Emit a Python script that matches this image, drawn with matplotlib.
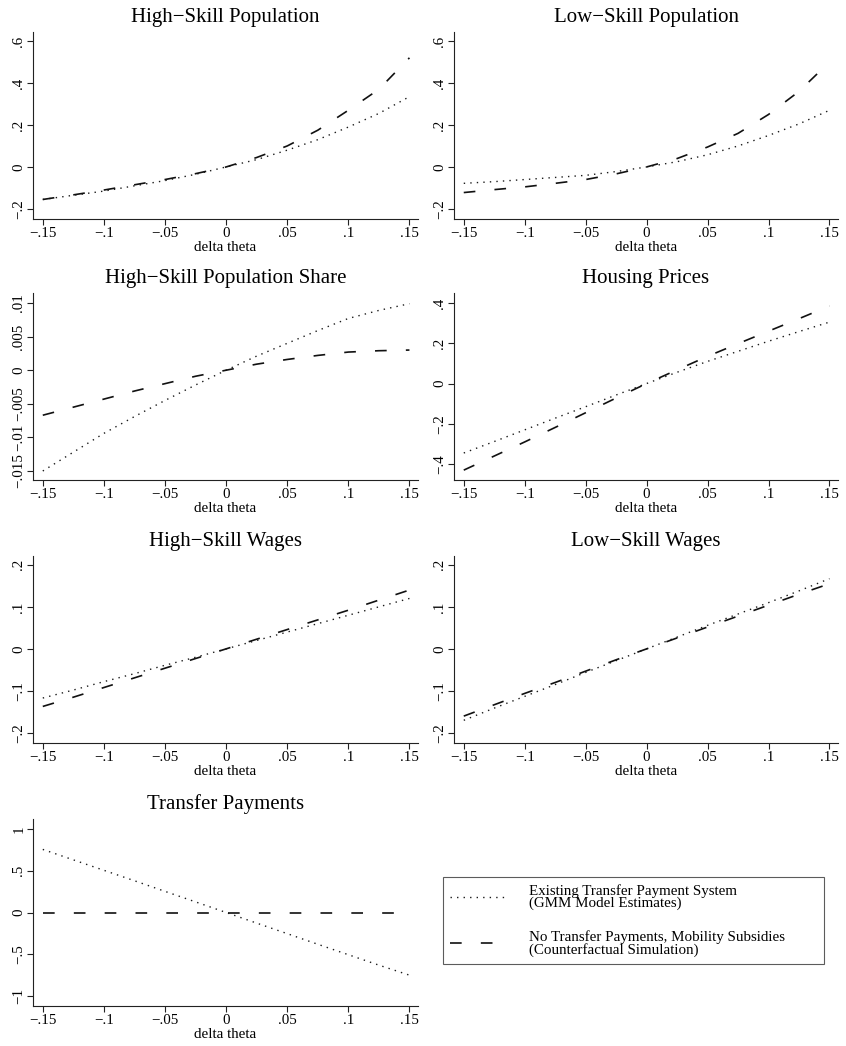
"""Simulated effects of a change in theta: transfer system vs. counterfactual."""

import matplotlib
matplotlib.use("Agg")
import matplotlib.pyplot as plt
from matplotlib.ticker import FixedLocator, FuncFormatter

plt.rcParams["font.family"] = ["Liberation Serif", "DejaVu Serif"]

# --- DATA ---
delta_theta: list[float] = [-0.15, -0.125, -0.1, -0.075, -0.05, -0.025, 0.0,
                            0.025, 0.05, 0.075, 0.1, 0.125, 0.15]

hs_pop_gmm: list[float] = [-0.155, -0.135, -0.115, -0.09, -0.065, -0.035, 0.0,
                           0.035, 0.08, 0.13, 0.19, 0.255, 0.335]
hs_pop_cf: list[float] = [-0.155, -0.133, -0.11, -0.085, -0.06, -0.032, 0.0,
                          0.045, 0.10, 0.175, 0.27, 0.37, 0.52]

ls_pop_gmm: list[float] = [-0.078, -0.07, -0.06, -0.05, -0.04, -0.022, 0.0,
                           0.025, 0.058, 0.1, 0.15, 0.205, 0.27]
ls_pop_cf: list[float] = [-0.122, -0.108, -0.095, -0.078, -0.06, -0.033, 0.0,
                          0.04, 0.095, 0.16, 0.25, 0.36, 0.50]

hs_share_gmm: list[float] = [-0.015, -0.0122, -0.0094, -0.0069, -0.0045, -0.0022, 0.0,
                             0.0021, 0.0040, 0.0059, 0.0077, 0.0089, 0.0099]
hs_share_cf: list[float] = [-0.0067, -0.0055, -0.0043, -0.0031, -0.0020, -0.0009, 0.0,
                            0.0009, 0.0016, 0.0022, 0.0027, 0.0029, 0.0030]

housing_gmm: list[float] = [-0.345, -0.288, -0.23, -0.172, -0.115, -0.057, 0.0,
                            0.056, 0.11, 0.16, 0.21, 0.258, 0.305]
housing_cf: list[float] = [-0.43, -0.36, -0.29, -0.218, -0.145, -0.072, 0.0,
                           0.068, 0.135, 0.198, 0.26, 0.322, 0.385]

hs_wage_gmm: list[float] = [-0.117, -0.098, -0.078, -0.059, -0.039, -0.02, 0.0,
                            0.02, 0.04, 0.06, 0.08, 0.1, 0.12]
hs_wage_cf: list[float] = [-0.137, -0.115, -0.092, -0.069, -0.046, -0.023, 0.0,
                           0.023, 0.046, 0.069, 0.092, 0.116, 0.14]

ls_wage_gmm: list[float] = [-0.17, -0.141, -0.113, -0.085, -0.056, -0.028, 0.0,
                            0.028, 0.056, 0.083, 0.11, 0.138, 0.167]
ls_wage_cf: list[float] = [-0.16, -0.133, -0.106, -0.08, -0.053, -0.026, 0.0,
                           0.026, 0.052, 0.078, 0.104, 0.13, 0.155]

transfer_gmm: list[float] = [0.755, 0.63, 0.505, 0.38, 0.253, 0.127, 0.0,
                             -0.127, -0.253, -0.38, -0.505, -0.63, -0.75]
transfer_cf: list[float] = [0.0] * 13

x_ticks: list[float] = [-0.15, -0.1, -0.05, 0.0, 0.05, 0.1, 0.15]

panels = [
    ("High\u2212Skill Population", hs_pop_gmm, hs_pop_cf, [-0.2, 0, 0.2, 0.4, 0.6], (-0.248, 0.643)),
    ("Low\u2212Skill Population", ls_pop_gmm, ls_pop_cf, [-0.2, 0, 0.2, 0.4, 0.6], (-0.248, 0.643)),
    ("High\u2212Skill Population Share", hs_share_gmm, hs_share_cf,
     [-0.015, -0.01, -0.005, 0, 0.005, 0.01], (-0.01634, 0.01149)),
    ("Housing Prices", housing_gmm, housing_cf, [-0.4, -0.2, 0, 0.2, 0.4], (-0.479, 0.4495)),
    ("High\u2212Skill Wages", hs_wage_gmm, hs_wage_cf, [-0.2, -0.1, 0, 0.1, 0.2], (-0.224, 0.221)),
    ("Low\u2212Skill Wages", ls_wage_gmm, ls_wage_cf, [-0.2, -0.1, 0, 0.1, 0.2], (-0.224, 0.221)),
    ("Transfer Payments", transfer_gmm, transfer_cf, [-1, -0.5, 0, 0.5, 1], (-1.119, 1.119)),
]

label_gmm = "Existing Transfer Payment System\n(GMM Model Estimates)"
label_cf = "No Transfer Payments, Mobility Subsidies\n(Counterfactual Simulation)"


def stata_fmt(v: float, _pos=None) -> str:
    s = "%g" % round(v, 6)
    if s.startswith("0.") or s.startswith("-0."):
        s = s.replace("0.", ".", 1)
    return s.replace("-", "\u2212")


# --- LAYOUT (pixel boxes from the reference) ---
W, H = 846, 1046
col_x = [33, 454]
col_w = [385, 384]
row_bottom = [219, 480, 743, 1006]
ax_h = 187

fig = plt.figure(figsize=(W / 100, H / 100), dpi=100)

for i, (title, gmm, cf, yticks, ylim) in enumerate(panels):
    r, c = divmod(i, 2)
    ax = fig.add_axes([col_x[c] / W, 1 - row_bottom[r] / H, col_w[c] / W, ax_h / H])
    line_gmm, = ax.plot(delta_theta, gmm, color="#1a1a1a", lw=1.0,
                        linestyle=(0, (1, 3.7)), label=label_gmm)
    line_cf, = ax.plot(delta_theta, cf, color="#111111", lw=1.2,
                       linestyle=(0, (7, 11.5)), label=label_cf)
    ax.set_xlim(-0.158, 0.157)
    ax.set_ylim(*ylim)
    ax.xaxis.set_major_locator(FixedLocator(x_ticks))
    ax.yaxis.set_major_locator(FixedLocator(yticks))
    ax.xaxis.set_major_formatter(FuncFormatter(stata_fmt))
    ax.yaxis.set_major_formatter(FuncFormatter(stata_fmt))
    ax.tick_params(labelsize=10.8, length=4, width=0.8, pad=1.5, color="#222222")
    for lab in ax.get_yticklabels():
        lab.set_rotation(90)
        lab.set_va("center")
    ax.spines["top"].set_visible(False)
    ax.spines["right"].set_visible(False)
    for side in ("left", "bottom"):
        ax.spines[side].set_linewidth(0.8)
        ax.spines[side].set_color("#222222")
    ax.set_xlabel("delta theta", fontsize=10.8, labelpad=1)
    ax.set_title(title, fontsize=15, pad=7)

# --- LEGEND ---
leg = fig.legend(handles=[line_gmm, line_cf], loc="upper left",
                 bbox_to_anchor=(443 / W, 1 - 960 / H, 381 / W, 83 / H), mode="expand",
                 borderaxespad=0, fontsize=10.8, frameon=True, fancybox=False,
                 edgecolor="#333333", handlelength=3.8, handletextpad=1.5,
                 borderpad=0.45, labelspacing=1.3)
leg.get_frame().set_linewidth(0.8)
for t in leg.get_texts():
    t.set_linespacing(0.95)

fig.savefig("out.png", dpi=100)
